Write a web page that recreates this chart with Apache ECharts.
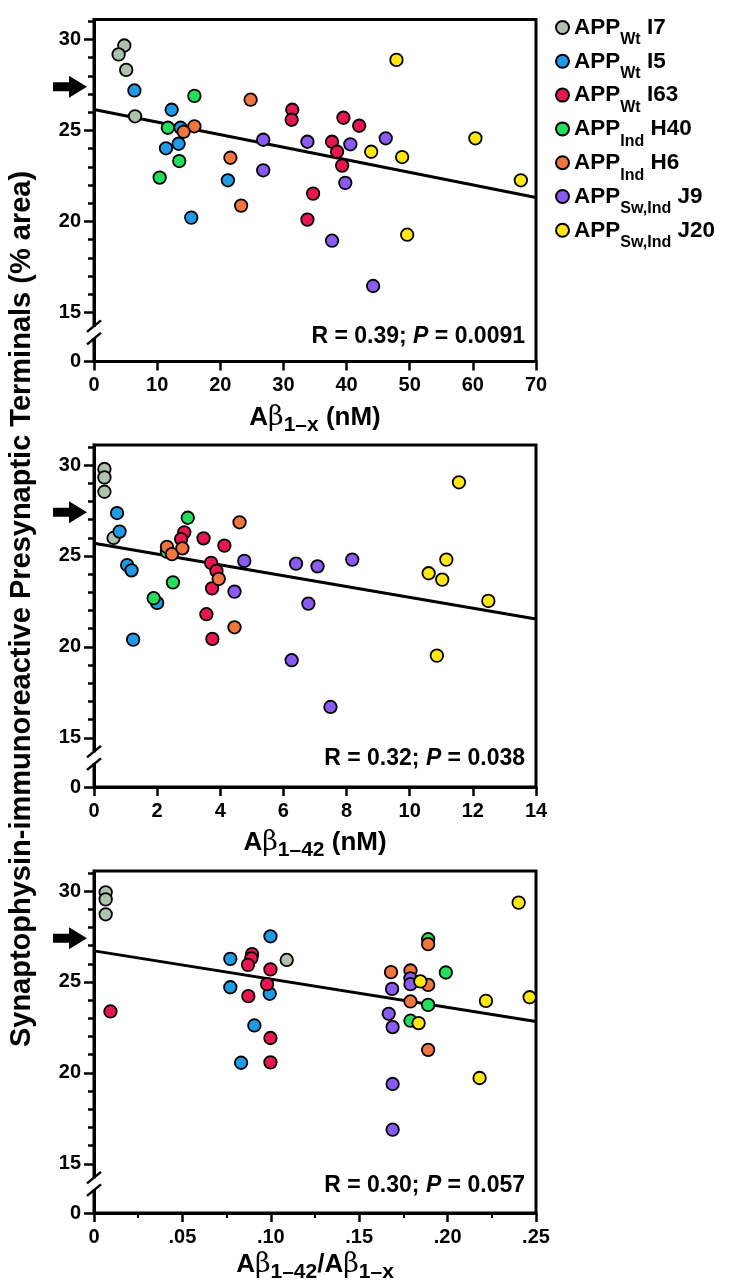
<!DOCTYPE html>
<html><head><meta charset="utf-8">
<script src="https://cdn.jsdelivr.net/npm/echarts@6/dist/echarts.min.js"></script>
<style>html,body{margin:0;padding:0;background:#fff}#c{width:729px;height:1280px}</style>
</head><body><div id="c"></div>
<script>
// ---- groups (legend) ----
const groupNames = ['APPWt I7','APPWt I5','APPWt I63','APPInd H40','APPInd H6','APPSw,Ind J9','APPSw,Ind J20'];
const groupSubs  = ['Wt','Wt','Wt','Ind','Ind','Sw,Ind','Sw,Ind'];
const groupLines = ['I7','I5','I63','H40','H6','J9','J20'];
const groupColors = ['#afc2ad','#1f9ae6','#e8174f','#22e05c','#f0753f','#8a5bf0','#ffe812'];

// ---- panel 1: x = Aβ1–x (nM), y = % area ----
const ax_I7  = [[4.8,29.67],[3.9,29.18],[5.1,28.33],[6.5,25.78]];
const ax_I5  = [[6.4,27.2],[12.3,26.14],[13.7,25.15],[11.4,24.02],[13.4,24.27],[21.2,22.26],[15.4,20.21]];
const ax_I63 = [[31.4,26.14],[31.3,25.59],[39.5,25.7],[42.0,25.26],[37.7,24.38],[38.5,23.83],[39.3,23.07],[34.7,21.53],[33.8,20.1]];
const ax_H40 = [[15.9,26.9],[11.7,25.15],[13.5,23.32],[10.4,22.41]];
const ax_H6  = [[24.8,26.69],[15.9,25.23],[14.2,24.93],[21.6,23.5],[23.3,20.87]];
const ax_J9  = [[26.8,24.49],[26.8,22.81],[33.8,24.38],[40.6,24.24],[39.8,22.12],[37.7,18.94],[44.2,16.45],[46.2,24.57]];
const ax_J20 = [[43.9,23.83],[48.8,23.54],[47.9,28.88],[60.4,24.57],[67.6,22.26],[49.6,19.27]];
const fit1 = [[0,26.15],[70,21.32]];

// ---- panel 2: x = Aβ1–42 (nM) ----
const a42_I7  = [[0.33,29.78],[0.33,29.32],[0.33,28.53],[0.62,25.99]];
const a42_I5  = [[0.73,27.36],[0.81,26.34],[1.05,24.5],[1.19,24.21],[2.0,22.42],[1.24,20.4]];
const a42_I63 = [[2.86,26.3],[2.76,25.93],[3.47,25.97],[4.13,25.57],[3.71,24.62],[3.88,24.18],[3.74,23.22],[3.56,21.8],[3.75,20.44]];
const a42_H40 = [[2.97,27.1],[2.31,25.24],[2.5,23.55],[1.89,22.68]];
const a42_H6  = [[4.61,26.85],[2.31,25.5],[2.47,25.1],[2.8,25.42],[3.95,23.74],[4.45,21.08]];
const a42_J9  = [[4.76,24.73],[4.45,23.04],[6.4,24.58],[7.08,24.43],[8.18,24.8],[6.79,22.38],[6.26,19.27],[7.49,16.7]];
const a42_J20 = [[11.56,29.05],[11.16,24.8],[10.6,24.05],[11.03,23.7],[12.49,22.53],[10.86,19.52]];
const fit2 = [[0,25.7],[14,21.54]];

// ---- panel 3: x = Aβ1–42/Aβ1–x ----
const r_I7  = [[0.0066,29.93],[0.0066,29.54],[0.0066,28.72],[0.109,26.21]];
const r_I5  = [[0.0998,27.51],[0.0771,26.27],[0.0771,24.71],[0.0994,24.35],[0.0907,22.61],[0.0832,20.56]];
const r_I63 = [[0.0093,23.38],[0.0894,26.53],[0.089,26.3],[0.0871,25.94],[0.0998,25.69],[0.0979,24.88],[0.0873,24.22],[0.0998,21.92],[0.0998,20.58]];
const r_H40 = [[0.189,27.35],[0.199,25.52],[0.189,23.74],[0.179,22.87]];
const r_H6  = [[0.189,27.08],[0.168,25.54],[0.179,25.63],[0.189,24.84],[0.179,23.93],[0.189,21.27]];
const r_J9  = [[0.179,25.2],[0.179,24.88],[0.1686,24.62],[0.1667,23.25],[0.1689,22.52],[0.1689,19.39],[0.1689,16.88]];
const r_J20 = [[0.2402,29.36],[0.1846,25.03],[0.2217,23.96],[0.2464,24.16],[0.1836,22.74],[0.2181,19.72]];
const fit3 = [[0,26.71],[0.25,22.83]];

// ---- axes / annotations ----
const yMajorTicks = [15,20,25,30];
const yMinorTicks = [16,17,18,19,21,22,23,24,26,27,28,29,31];
const yMin = 12.3, yMax = 31.1, yBreak = 13.9;
const controlMean = 27.4;
const xMaxes = [70,14,0.25];
const xSteps = [10,2,0.05];
const rValues = ['0.39','0.32','0.30'];
const pValues = ['0.0091','0.038','0.057'];

const FONT = 'Liberation Sans, Arial, Helvetica, sans-serif';
const panels = [
  [ax_I7,ax_I5,ax_I63,ax_H40,ax_H6,ax_J9,ax_J20],
  [a42_I7,a42_I5,a42_I63,a42_H40,a42_H6,a42_J9,a42_J20],
  [r_I7,r_I5,r_I63,r_H40,r_H6,r_J9,r_J20]
];
const fits = [fit1,fit2,fit3];
const gridTops = [19.5,445,871];
const textTops = [325,747,1174];
const nameGaps = [38,38,34];

const xNames = [
  '{a|A}{g|β}{s|1–x}{a| (nM)}',
  '{a|A}{g|β}{s|1–42}{a| (nM)}',
  '{a|A}{g|β}{s|1–42}{a|/A}{g|β}{s|1–x}'
];
const nameRich = {
  a:{fontSize:26,fontWeight:'bold',fontFamily:FONT,color:'#000',lineHeight:28},
  g:{fontSize:27,fontFamily:'DejaVu Serif, Liberation Serif, serif',color:'#000',lineHeight:28},
  s:{fontSize:21,fontWeight:'bold',fontFamily:FONT,color:'#000',padding:[15,0,0,0]}
};

const grids = [], xAxes = [], yAxes = [], series = [], titles = [];
for (let p = 0; p < 3; p++) {
  grids.push({left:94, width:442, top:gridTops[p], height:342, show:true, borderColor:'#000', borderWidth:3, backgroundColor:'rgba(0,0,0,0)', outerBoundsMode:'none', containLabel:false});
  xAxes.push({
    gridIndex:p, type:'value', min:0, max:xMaxes[p], interval:xSteps[p],
    axisLine:{show:true, onZero:false, lineStyle:{color:'#000', width:3}},
    axisTick:{show:true, length:9, lineStyle:{color:'#000', width:2.5}},
    minorTick: p === 2 ? {show:true, splitNumber:2, length:5, lineStyle:{color:'#000', width:2}} : {show:false},
    splitLine:{show:false}, minorSplitLine:{show:false},
    axisLabel:{color:'#000', fontSize:20, fontWeight:'bold', fontFamily:FONT, margin:14,
      formatter: p === 2 ? (v => v === 0 ? '0' : '.' + v.toFixed(2).split('.')[1]) : (v => String(v))},
    name: xNames[p], nameLocation:'middle', nameGap:nameGaps[p],
    nameTextStyle:{rich:nameRich}
  });
  yAxes.push({
    gridIndex:p, type:'value', min:yMin, max:yMax, position:'left',
    axisLine:{show:true, onZero:false, lineStyle:{color:'#000', width:3}},
    axisTick:{show:true, length:10, customValues:[yMin].concat(yMajorTicks), lineStyle:{color:'#000', width:2.5}},
    axisLabel:{color:'#000', fontSize:20, fontWeight:'bold', fontFamily:FONT, margin:13,
      customValues:[yMin].concat(yMajorTicks),
      formatter: v => Math.abs(v - yMin) < 1e-6 ? '0' : String(v)},
    splitLine:{show:false},
    name: p === 1 ? 'Synaptophysin-immunoreactive Presynaptic Terminals (% area)' : '',
    nameLocation:'middle', nameRotate:90, nameGap:58,
    nameTextStyle:{color:'#000', fontSize:29, fontWeight:'bold', fontFamily:FONT, padding:[0,0,0,14]}
  });
  yAxes.push({
    gridIndex:p, type:'value', min:yMin, max:yMax, position:'left', offset:0,
    axisLine:{show:false},
    axisTick:{show:true, length:6, customValues:yMinorTicks, lineStyle:{color:'#000', width:2.5}},
    axisLabel:{show:false}, splitLine:{show:false}
  });
  // regression line
  series.push({type:'line', name:'fit'+p, xAxisIndex:p, yAxisIndex:2*p, data:fits[p], symbol:'none',
    lineStyle:{color:'#000', width:3}, z:2, silent:true, animation:false});
  // groups
  for (let g = 0; g < 7; g++) {
    series.push({type:'scatter', name:groupNames[g], xAxisIndex:p, yAxisIndex:2*p, data:panels[p][g],
      symbol:'circle', symbolSize:12.5,
      itemStyle:{color:groupColors[g], borderColor:'#000', borderWidth:1.8, opacity:1}, z:3, animation:false});
  }
  // control arrow
  series.push({type:'custom', name:'arrow'+p, xAxisIndex:p, yAxisIndex:2*p, data:[[0, controlMean]], clip:false, silent:true, z:4,
    renderItem:(params, api) => {
      const c = api.coord([api.value(0), api.value(1)]);
      const x = c[0], y = c[1];
      return {type:'polygon', shape:{points:[[x-41,y-4.5],[x-25,y-4.5],[x-25,y-11],[x-7,y],[x-25,y+11],[x-25,y+4.5],[x-41,y+4.5]]}, style:{fill:'#000'}};
    }});
  // axis break
  series.push({type:'custom', name:'break'+p, xAxisIndex:p, yAxisIndex:2*p, data:[[0, yBreak]], clip:false, silent:true, z:5,
    renderItem:(params, api) => {
      const c = api.coord([api.value(0), api.value(1)]);
      const x = c[0], y = c[1];
      return {type:'group', children:[
        {type:'rect', shape:{x:x-5, y:y-5.5, width:10, height:11}, style:{fill:'#fff'}},
        {type:'line', shape:{x1:x-7, y1:y-0.5, x2:x+7, y2:y-12}, style:{stroke:'#000', lineWidth:2.5}},
        {type:'line', shape:{x1:x-7, y1:y+12, x2:x+7, y2:y+0.5}, style:{stroke:'#000', lineWidth:2.5}}
      ]};
    }});
  titles.push({
    text:'{r|R = ' + rValues[p] + '; }{i|P}{r| = ' + pValues[p] + '}',
    right:204, top:textTops[p], padding:0,
    textStyle:{rich:{
      r:{fontSize:23, fontWeight:'bold', fontFamily:FONT, color:'#000'},
      i:{fontSize:23, fontWeight:'bold', fontStyle:'italic', fontFamily:FONT, color:'#000'}
    }}
  });
}

const chart = echarts.init(document.getElementById('c'), null, {renderer:'canvas'});
chart.setOption({
  backgroundColor:'#fff',
  animation:false,
  title: titles,
  legend:{
    orient:'vertical', left:550, top:2, itemWidth:13, itemHeight:13, itemGap:-7.2,
    icon:'circle', data:groupNames, selectedMode:false,
    formatter: name => {
      const i = groupNames.indexOf(name);
      return '{b|APP}{s|' + groupSubs[i] + '}{b| ' + groupLines[i] + '}';
    },
    textStyle:{rich:{
      b:{fontSize:22.5, fontWeight:'bold', fontFamily:FONT, color:'#000', lineHeight:24},
      s:{fontSize:16, fontWeight:'bold', fontFamily:FONT, color:'#000', lineHeight:16, padding:[25,0,0,0]}
    }}
  },
  grid: grids,
  xAxis: xAxes,
  yAxis: yAxes,
  series: series
});
</script></body></html>
